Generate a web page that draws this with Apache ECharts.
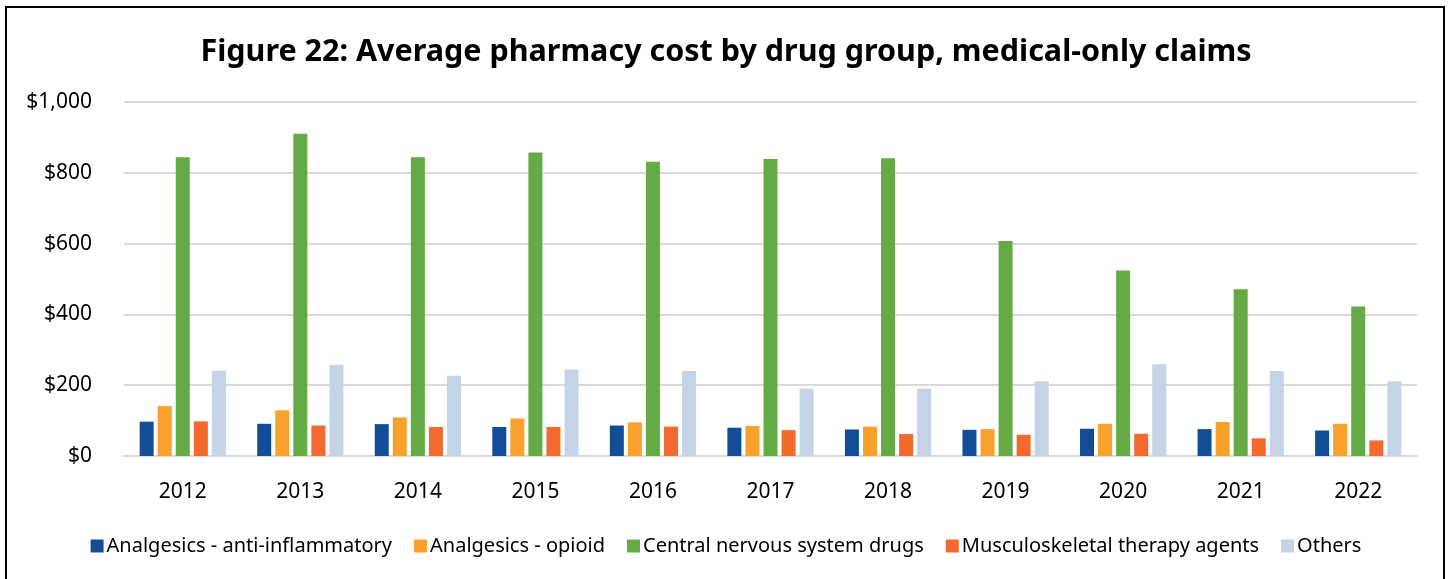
<!DOCTYPE html>
<html>
<head>
<meta charset="utf-8">
<script src="https://cdn.jsdelivr.net/npm/echarts@6/dist/echarts.min.js"></script>
<style>
html,body{margin:0;padding:0;background:#fff;}
#frame{position:absolute;left:5px;top:6px;width:1440px;height:580px;border:2px solid #000;box-sizing:border-box;}
#chart{position:absolute;left:0;top:0;width:1452px;height:579px;}
</style>
</head>
<body>
<div id="frame"></div>
<div id="chart"></div>
<script>
const years = ['2012','2013','2014','2015','2016','2017','2018','2019','2020','2021','2022'];
const antiInflammatory = [97, 91, 90, 82, 86, 80, 75, 74, 77, 76, 72];
const opioid = [141, 129, 109, 106, 95, 85, 83, 76, 91, 96, 91];
const cns = [844, 910, 844, 857, 831, 839, 841, 607, 524, 471, 422];
const musculoskeletal = [98, 86, 82, 82, 83, 73, 62, 60, 63, 50, 44];
const others = [241, 258, 227, 244, 240, 191, 190, 211, 259, 240, 211];
const seriesNames = ['Analgesics - anti-inflammatory','Analgesics - opioid','Central nervous system drugs','Musculoskeletal therapy agents','Others'];
const colors = ['#124E96','#F9A12D','#64AB45','#F26A2D','#C4D3E5'];
const yTicks = [0, 200, 400, 600, 800, 1000];

const font = '"Noto Sans", "Open Sans", sans-serif';
const chart = echarts.init(document.getElementById('chart'));
const dataSets = [antiInflammatory, opioid, cns, musculoskeletal, others];
chart.setOption({
  animation: false,
  color: colors,
  title: {
    text: 'Figure 22: Average pharmacy cost by drug group, medical-only claims',
    left: 'center', top: 32,
    textStyle: {fontFamily: font, fontWeight: 'bold', fontSize: 30.5, color: '#000'}
  },
  legend: {
    bottom: 18, left: 'center',
    itemWidth: 13, itemHeight: 13, itemGap: 22,
    icon: 'rect',
    textStyle: {fontFamily: font, fontSize: 20, color: '#000', padding: [0,0,0,-2]},
    data: seriesNames
  },
  grid: {left: 124, right: 35, top: 102, bottom: 123, containLabel: false},
  xAxis: {
    type: 'category', data: years,
    axisLine: {lineStyle: {color: '#d9d9d9', width: 2}},
    axisTick: {show: false},
    axisLabel: {fontFamily: font, fontSize: 21, color: '#000', margin: 26}
  },
  yAxis: {
    type: 'value', min: yTicks[0], max: yTicks[yTicks.length-1], interval: 200,
    axisLine: {show: false}, axisTick: {show: false},
    splitLine: {lineStyle: {color: '#d9d9d9', width: 2}},
    axisLabel: {fontFamily: font, fontSize: 21, color: '#000', margin: 32,
      formatter: v => '$' + v.toLocaleString('en-US')}
  },
  series: seriesNames.map((n, i) => ({
    name: n, type: 'bar', data: dataSets[i],
    barWidth: 14, barGap: '29%',
    itemStyle: {color: colors[i]}
  }))
});
</script>
</body>
</html>
